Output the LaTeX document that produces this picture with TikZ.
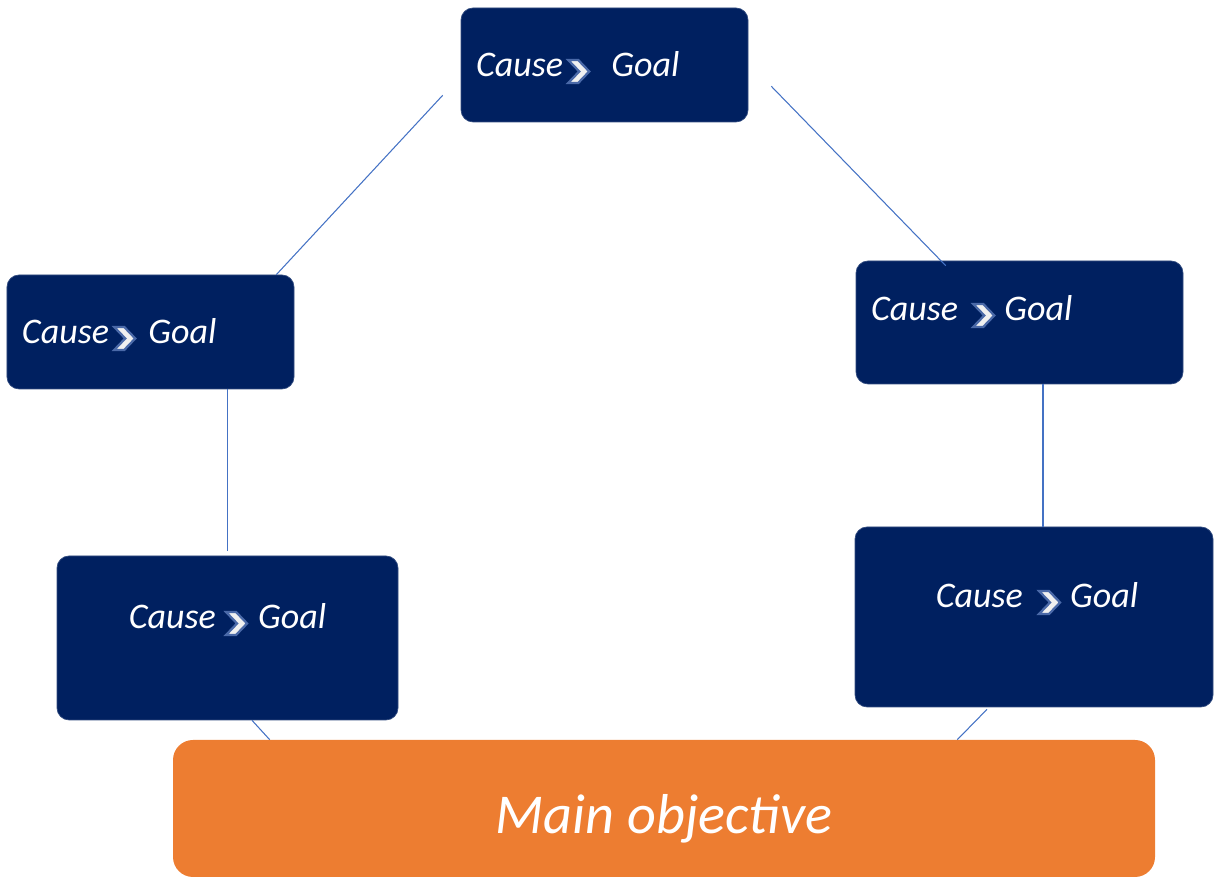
\documentclass[tikz,border=0pt]{standalone}
\usepackage{fontspec}
\setmainfont{Carlito}
\usepackage{xcolor}
\usetikzlibrary{calc}
\definecolor{navy}{HTML}{002060}
\definecolor{objorange}{HTML}{ED7D31}
\definecolor{linkblue}{HTML}{4472C4}
\definecolor{chevedge}{HTML}{4A69A8}
\newcommand{\chev}{\tikz[baseline=0.12cm,x=1cm,y=1cm]{\filldraw[draw=chevedge,fill=gray!12,line width=1.3pt,line join=miter]
  (0,0) -- (0.2,0) -- (0.42,0.23) -- (0.2,0.46) -- (0,0.46) -- (0.22,0.23) -- cycle;}}

\begin{document}
\begin{tikzpicture}[
    link/.style={draw=linkblue,line width=0.6pt},
    cgbox/.style={draw=navy!80!white,fill=navy,rounded corners=0.24cm,inner sep=0pt},
    objbox/.style={fill=objorange,rounded corners=0.4cm,inner sep=0pt,minimum width=19.64cm,minimum height=2.74cm},
    cgtext/.style={text=white,font=\fontsize{20.5}{24}\selectfont\itshape,inner sep=0pt},
    objtext/.style={text=white,font=\fontsize{32}{38}\selectfont\itshape,inner sep=0pt}
]
\useasboundingbox (0,0) rectangle (24.3,17.62);

% --- Boxes ---
\node[cgbox,minimum width=5.74cm,minimum height=2.28cm] (top)      at (12.09,16.32) {};
\node[cgbox,minimum width=5.74cm,minimum height=2.28cm] (left)     at (3.01,10.98)  {};
\node[cgbox,minimum width=6.54cm,minimum height=2.46cm] (right)    at (20.39,11.17) {};
\node[cgbox,minimum width=6.82cm,minimum height=3.28cm] (lowleft)  at (4.55,4.86)   {};
\node[cgbox,minimum width=7.16cm,minimum height=3.6cm]  (lowright) at (20.68,5.28)  {};
\node[objbox] (main) at (13.28,1.45) {};

% --- Texts ---
\node[cgtext,anchor=base west] (ttop)   at ($(top.west)+(0.3,-0.24)$)  {Cause\hspace{0.08cm}\chev\hspace{0.42cm}Goal};
\node[cgtext,anchor=base west] (tleft)  at ($(left.west)+(0.3,-0.24)$) {Cause\hspace{0.08cm}\chev\hspace{0.24cm}Goal};
\node[cgtext,anchor=base west] (tright) at ($(right.west)+(0.3,0.03)$) {Cause\hspace{0.28cm}\chev\hspace{0.18cm}Goal};
\node[cgtext,anchor=base] (tlowleft)  at ($(lowleft.center)+(0,0.18)$)     {Cause\hspace{0.18cm}\chev\hspace{0.2cm}Goal};
\node[cgtext,anchor=base] (tlowright) at ($(lowright.center)+(0.06,0.18)$) {Cause\hspace{0.3cm}\chev\hspace{0.18cm}Goal};
\node[objtext,anchor=base] (tmain) at ($(main.center)+(0,-0.5)$) {Main objective};

% --- Links ---
\draw[link] ($(top.south west)+(-0.36,0.54)$) -- ($(left.north east)+(-0.36,0)$);
\draw[link] ($(top.south east)+(0.46,0.72)$) -- ($(right.north west)+(1.8,-0.1)$);
\draw[link] (left.south -| lowleft.north) -- ($(lowleft.north)+(0,0.1)$);
\draw[link] ($(right.south -| lowright.north)+(0.18,0)$) -- ($(lowright.north)+(0.18,0)$);
\draw[link] ($(lowleft.south)+(0.49,0)$) -- ($(main.north west)+(1.94,0)$);
\draw[link] ($(lowright.south)+(-0.94,-0.04)$) -- ($(main.north east)+(-3.96,0)$);
\end{tikzpicture}
\end{document}
